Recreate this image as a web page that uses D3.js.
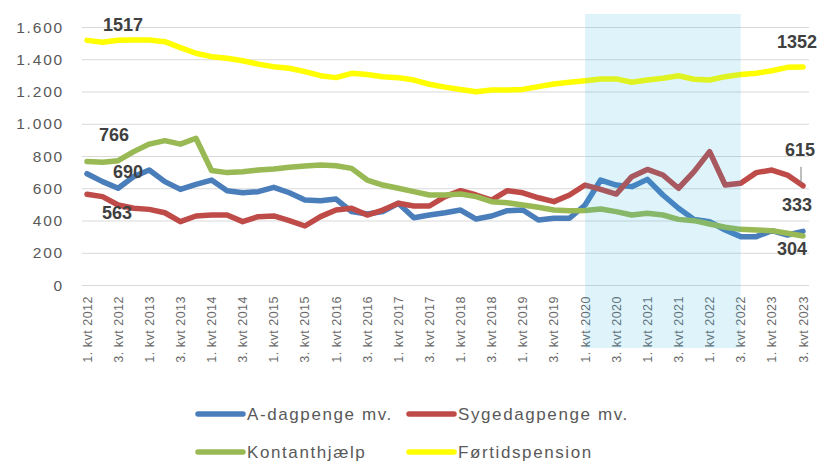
<!DOCTYPE html>
<html><head><meta charset="utf-8">
<script src="https://cdn.jsdelivr.net/npm/d3@7/dist/d3.min.js"></script>
<style>
body{margin:0;background:#fff;}
svg{font-family:"Liberation Sans","DejaVu Sans",sans-serif;}
</style></head>
<body><svg id="chart" width="820" height="465"></svg>
<script>
const years = d3.range(2012, 2024);
const quarters = [];
years.forEach(y => [1,2,3,4].forEach(q => { if (!(y === 2023 && q === 4)) quarters.push(q + ". kvt " + y); }));
const tickLabels = quarters.filter((d, i) => i % 2 === 0);
const yTicks = [0, 200, 400, 600, 800, 1000, 1200, 1400, 1600];

const aDagpenge = [690,641,600,672,713,641,593,624,651,585,572,579,606,572,527,523,533,455,440,455,507,417,434,448,465,409,428,461,465,403,414,414,496,651,620,610,655,558,476,407,393,341,300,300,337,310,333];
const sygedagpenge = [563,548,496,476,469,448,393,428,434,434,393,424,428,399,366,424,465,476,434,465,507,490,490,548,585,558,527,585,572,541,517,558,620,593,564,672,717,682,600,703,827,620,631,697,713,682,615];
const kontanthjaelp = [766,761,771,827,874,895,874,910,710,697,703,713,719,730,738,744,740,723,651,620,600,579,558,558,564,548,517,510,496,482,465,461,462,471,455,434,445,434,407,399,378,358,345,341,337,321,304];
const fortidspension = [1517,1505,1518,1520,1520,1509,1472,1437,1416,1406,1391,1370,1354,1344,1323,1298,1286,1313,1306,1292,1286,1271,1245,1227,1213,1199,1209,1209,1213,1230,1246,1257,1267,1278,1278,1257,1271,1282,1298,1276,1271,1292,1306,1313,1329,1350,1352];

const seriesNames = ["A-dagpenge mv.", "Sygedagpenge mv.", "Kontanthjælp", "Førtidspension"];
const seriesColors = ["#4a7ebb", "#be4b48", "#98b954", "#ffff00"];
const seriesData = [aDagpenge, sygedagpenge, kontanthjaelp, fortidspension];
const shadeFrom = "1. kvt 2020", shadeTo = "3. kvt 2022";

const svg = d3.select("#chart");
const x = d3.scalePoint().domain(quarters).range([87, 803]);
const y = d3.scaleLinear().domain([0, 1600]).range([285, 27]);

// gridlines
svg.append("g").selectAll("line").data(yTicks).join("line")
  .attr("x1", 82).attr("x2", 809)
  .attr("y1", d => y(d) + 0.5).attr("y2", d => y(d) + 0.5)
  .attr("stroke", "#d9d9d9").attr("stroke-width", 1);

// y axis labels
const fmt = d => d3.format(",")(d).replace(/,/g, ".");
svg.append("g").selectAll("text").data(yTicks).join("text")
  .attr("x", 64).attr("y", d => y(d)).attr("dy", "0.36em")
  .attr("text-anchor", "end").attr("fill", "#595959").attr("font-size", 15.5)
  .attr("letter-spacing", 1.8)
  .text(fmt);

// x axis labels
svg.append("g").selectAll("text").data(tickLabels).join("text")
  .attr("transform", d => `translate(${x(d) + 4.5},296) rotate(-90)`)
  .attr("text-anchor", "end").attr("fill", "#6a6a6a").attr("font-size", 12.5)
  .attr("letter-spacing", 0.5)
  .text(d => d);

// lines
const line = d3.line().x((d, i) => x(quarters[i])).y(d => y(d));
svg.append("g").selectAll("path").data(seriesData).join("path")
  .attr("d", d => line(d)).attr("fill", "none")
  .attr("stroke", (d, i) => seriesColors[i]).attr("stroke-width", 5.5)
  .attr("stroke-linejoin", "round").attr("stroke-linecap", "round");

// shaded period overlay
svg.append("rect")
  .attr("x", x(shadeFrom)).attr("y", 14)
  .attr("width", x(shadeTo) - x(shadeFrom)).attr("height", 334)
  .attr("fill", "rgb(42,175,228)").attr("fill-opacity", 0.15);

// data labels
const last = quarters.length - 1;
const labels = [
  {v: fortidspension[0], i: 0, dx: 36, dy: -16},
  {v: kontanthjaelp[0], i: 0, dx: 27, dy: -26.5},
  {v: aDagpenge[0], i: 0, dx: 41, dy: -2},
  {v: sygedagpenge[0], i: 0, dx: 30, dy: 18},
  {v: fortidspension[last], i: last, dx: -6, dy: -25},
  {v: sygedagpenge[last], i: last, dx: -3, dy: -36},
  {v: aDagpenge[last], i: last, dx: -6, dy: -27},
  {v: kontanthjaelp[last], i: last, dx: -11, dy: 13}
];
svg.append("g").selectAll("text").data(labels).join("text")
  .attr("x", d => x(quarters[d.i]) + d.dx).attr("y", d => y(d.v) + d.dy)
  .attr("dy", "0.36em").attr("text-anchor", "middle")
  .attr("fill", "#404040").attr("font-size", 18)
  .attr("font-weight", "bold")
  .text(d => d.v);
// leader line for 615
svg.append("line")
  .attr("x1", x(quarters[last]) - 2).attr("x2", x(quarters[last]) - 2)
  .attr("y1", y(sygedagpenge[last]) - 19).attr("y2", y(sygedagpenge[last]) - 3)
  .attr("stroke", "#7f7f7f").attr("stroke-width", 1);

// legend
const legendPos = [[197, 414], [408, 414], [197, 452], [408, 452]];
const lg = svg.append("g").selectAll("g").data(seriesNames).join("g")
  .attr("transform", (d, i) => `translate(${legendPos[i][0]},${legendPos[i][1]})`);
lg.append("line").attr("x1", 1).attr("x2", 46).attr("y1", 0).attr("y2", 0)
  .attr("stroke", (d, i) => seriesColors[i]).attr("stroke-width", 5.5).attr("stroke-linecap", "round");
lg.append("text").attr("x", 50).attr("y", 0).attr("dy", "0.36em")
  .attr("fill", "#595959").attr("font-size", 17).attr("letter-spacing", 1.6)
  .text(d => d);
</script></body></html>
